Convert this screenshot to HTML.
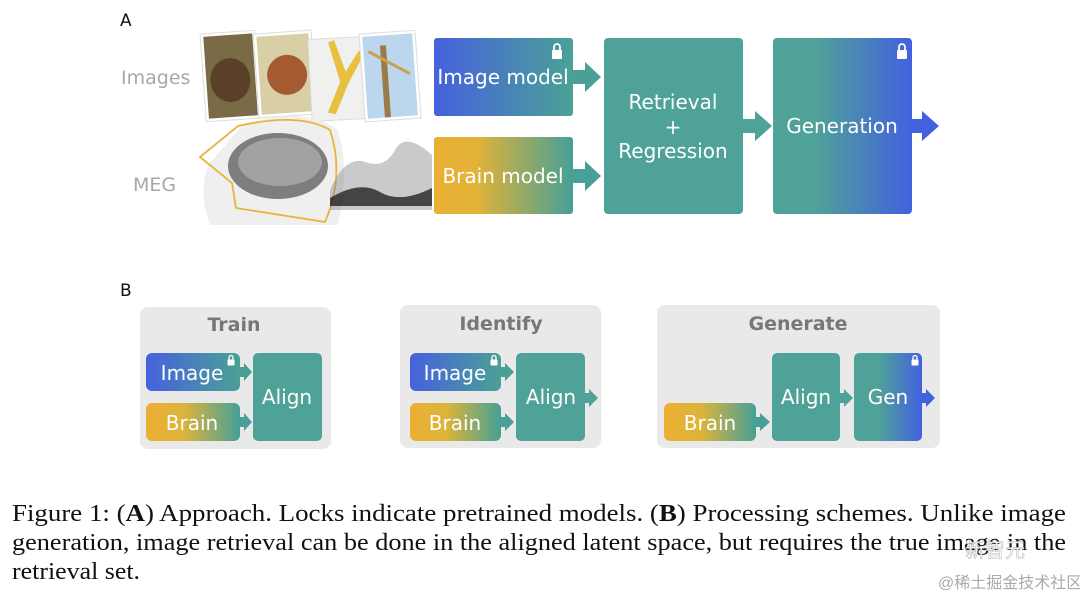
<!DOCTYPE html>
<html><head><meta charset="utf-8"><style>
html,body{margin:0;padding:0;background:#fff;}
svg{display:block}
.s{font-family:"DejaVu Sans","Liberation Sans",sans-serif;}
.c{font-family:"Liberation Serif",serif;font-size:24px;fill:#111;}
</style></head><body>
<svg width="1080" height="598" viewBox="0 0 1080 598" xmlns="http://www.w3.org/2000/svg">
<defs>
<linearGradient id="gb" x1="0" x2="1"><stop offset="0" stop-color="#4661de"/><stop offset="1" stop-color="#4ba196"/></linearGradient>
<linearGradient id="gy" x1="0" x2="1"><stop offset="0.05" stop-color="#e9b035"/><stop offset="0.3" stop-color="#e2b338"/><stop offset="1" stop-color="#46a096"/></linearGradient>
<linearGradient id="gg" x1="0" x2="1"><stop offset="0.3" stop-color="#4fa298"/><stop offset="1" stop-color="#4361df"/></linearGradient>
<linearGradient id="gbs" x1="0" x2="1"><stop offset="0" stop-color="#4661de"/><stop offset="1" stop-color="#4aa096"/></linearGradient>
<linearGradient id="gys" x1="0" x2="1"><stop offset="0.1" stop-color="#e9b035"/><stop offset="0.4" stop-color="#dcb43a"/><stop offset="1" stop-color="#46a096"/></linearGradient>
<linearGradient id="ggs" x1="0" x2="1"><stop offset="0.35" stop-color="#4fa298"/><stop offset="1" stop-color="#4361df"/></linearGradient>
<g id="lock"><rect x="-5" y="-2" width="10" height="9" rx="1" fill="#fff"/><path d="M-3,-2 v-3 a3,3 0 0 1 6,0 v3" stroke="#fff" stroke-width="1.8" fill="none"/></g>
<g id="slock"><rect x="-3.5" y="-1.5" width="7" height="6" rx="1" fill="#fff"/><path d="M-2,-1.5 v-2 a2,2 0 0 1 4,0 v2" stroke="#fff" stroke-width="1.3" fill="none"/></g>
</defs>

<text x="120" y="26" class="s" font-size="17" fill="#111">A</text>
<text x="121" y="84" class="s" font-size="19" fill="#a8a8a8">Images</text>
<text x="133" y="191" class="s" font-size="19" fill="#a8a8a8">MEG</text>

<!-- photos -->
<g transform="rotate(-4 231 75)"><rect x="203" y="32" width="55" height="88" fill="#fff" stroke="#ddd"/><rect x="206" y="35" width="49" height="82" fill="#7a6a45"/><ellipse cx="230" cy="80" rx="20" ry="22" fill="#5a4028"/></g>
<g transform="rotate(-4 285 73)"><rect x="256" y="32" width="58" height="84" fill="#fff" stroke="#ddd"/><rect x="259" y="35" width="52" height="78" fill="#d8cfa6"/><circle cx="287" cy="75" r="20" fill="#a65a32"/></g>
<g transform="rotate(-3 338 78)"><rect x="310" y="38" width="55" height="82" fill="#f0f0ee" stroke="#ddd"/><path d="M330 42 l10 40 l-14 30 l8 2 l14 -30 l18 -30 l-6 -2 l-14 20 l-10 -32z" fill="#e8c040"/></g>
<g transform="rotate(-4 391 75)"><rect x="362" y="32" width="56" height="88" fill="#fff" stroke="#ddd"/><rect x="365" y="35" width="50" height="82" fill="#bcd6ee"/><rect x="382" y="45" width="6" height="72" fill="#9a7a45"/><line x1="370" y1="50" x2="410" y2="75" stroke="#c8a050" stroke-width="3"/></g>

<!-- head / brain -->
<path d="M210 225 q-12 -30 -2 -60 l35 -40 q60 -20 95 5 q12 40 0 95z" fill="#efefef"/>
<path d="M200 157 L238 126 Q300 112 330 130 Q345 175 325 222 L236 208 L232 183 Z" fill="none" stroke="#e9b43c" stroke-width="1.8"/>
<ellipse cx="278" cy="166" rx="50" ry="33" fill="#7e7e7e"/>
<ellipse cx="280" cy="162" rx="42" ry="24" fill="#a2a2a2"/>
<path d="M330 190 q15 -35 35 -28 t30 -12 t37 5 l0 55 l-102 0z" fill="#8a8a8a" opacity="0.45"/>
<path d="M330 198 q30 -18 50 -6 t52 -4 l0 18 l-102 0z" fill="#222" opacity="0.8"/>

<!-- A boxes -->
<rect x="434" y="38" width="139" height="78" rx="3" fill="url(#gb)"/>
<use href="#lock" x="557" y="52"/>
<text x="503" y="84" class="s" font-size="20" fill="#fff" text-anchor="middle">Image model</text>
<polygon points="573,70 585,70 585,62 601,77 585,92 585,84 573,84" fill="#4aa096"/>
<rect x="434" y="137" width="139" height="77" rx="3" fill="url(#gy)"/>
<text x="503" y="183" class="s" font-size="20" fill="#fff" text-anchor="middle">Brain model</text>
<polygon points="573,169 585,169 585,161 601,176 585,191 585,183 573,183" fill="#4aa096"/>

<rect x="604" y="38" width="139" height="176" rx="4" fill="#4fa298"/>
<text x="673" y="109" class="s" font-size="20" fill="#fff" text-anchor="middle">Retrieval</text>
<text x="673" y="134" class="s" font-size="20" fill="#fff" text-anchor="middle">+</text>
<text x="673" y="158" class="s" font-size="20" fill="#fff" text-anchor="middle">Regression</text>
<polygon points="743,119 755,119 755,111 772,126 755,141 755,133 743,133" fill="#4fa298"/>

<rect x="773" y="38" width="139" height="176" rx="4" fill="url(#gg)"/>
<use href="#lock" x="902" y="52"/>
<text x="842" y="133" class="s" font-size="20" fill="#fff" text-anchor="middle">Generation</text>
<polygon points="912,119 922,119 922,111 939,126 922,141 922,133 912,133" fill="#4361df"/>

<!-- B -->
<text x="120" y="296" class="s" font-size="17" fill="#111">B</text>

<rect x="140" y="307" width="191" height="142" rx="8" fill="#e9e9ea"/>
<text x="234" y="331" class="s" font-size="19" font-weight="bold" fill="#777" text-anchor="middle">Train</text>
<rect x="146" y="353" width="94" height="38" rx="6" fill="url(#gbs)"/>
<use href="#slock" x="231" y="361"/>
<text x="192" y="380" class="s" font-size="20" fill="#fff" text-anchor="middle">Image</text>
<polygon points="240,367 244,367 244,363 252,372 244,381 244,377 240,377" fill="#4aa096"/>
<rect x="146" y="403" width="94" height="38" rx="6" fill="url(#gys)"/>
<text x="192" y="430" class="s" font-size="20" fill="#fff" text-anchor="middle">Brain</text>
<polygon points="240,417 244,417 244,413 252,422 244,431 244,427 240,427" fill="#4aa096"/>
<rect x="253" y="353" width="69" height="88" rx="5" fill="#4fa298"/>
<text x="287" y="404" class="s" font-size="20" fill="#fff" text-anchor="middle">Align</text>

<rect x="400" y="305" width="201" height="143" rx="8" fill="#e9e9ea"/>
<text x="501" y="330" class="s" font-size="19" font-weight="bold" fill="#777" text-anchor="middle">Identify</text>
<rect x="410" y="353" width="91" height="38" rx="6" fill="url(#gbs)"/>
<use href="#slock" x="494" y="361"/>
<text x="455" y="380" class="s" font-size="20" fill="#fff" text-anchor="middle">Image</text>
<polygon points="501,367 505,367 505,363 514,372 505,381 505,377 501,377" fill="#4aa096"/>
<rect x="410" y="403" width="91" height="38" rx="6" fill="url(#gys)"/>
<text x="455" y="430" class="s" font-size="20" fill="#fff" text-anchor="middle">Brain</text>
<polygon points="501,417 505,417 505,413 514,422 505,431 505,427 501,427" fill="#4aa096"/>
<rect x="516" y="353" width="69" height="88" rx="5" fill="#4fa298"/>
<text x="551" y="404" class="s" font-size="20" fill="#fff" text-anchor="middle">Align</text>
<polygon points="585,393 589,393 589,389 598,398 589,407 589,403 585,403" fill="#4fa298"/>

<rect x="657" y="305" width="283" height="143" rx="8" fill="#e9e9ea"/>
<text x="798" y="330" class="s" font-size="19" font-weight="bold" fill="#777" text-anchor="middle">Generate</text>
<rect x="664" y="403" width="92" height="38" rx="6" fill="url(#gys)"/>
<text x="710" y="430" class="s" font-size="20" fill="#fff" text-anchor="middle">Brain</text>
<polygon points="756,417 760,417 760,413 770,422 760,431 760,427 756,427" fill="#4aa096"/>
<rect x="772" y="353" width="68" height="88" rx="5" fill="#4fa298"/>
<text x="806" y="404" class="s" font-size="20" fill="#fff" text-anchor="middle">Align</text>
<polygon points="840,393 844,393 844,389 853,398 844,407 844,403 840,403" fill="#4fa298"/>
<rect x="854" y="353" width="68" height="88" rx="5" fill="url(#ggs)"/>
<use href="#slock" x="915" y="361"/>
<text x="888" y="404" class="s" font-size="20" fill="#fff" text-anchor="middle">Gen</text>
<polygon points="922,393 926,393 926,389 935,398 926,407 926,403 922,403" fill="#4361df"/>

<!-- caption -->
<text x="12" y="521" class="c" textLength="1054" lengthAdjust="spacingAndGlyphs">Figure 1: (<tspan font-weight="bold">A</tspan>) Approach. Locks indicate pretrained models. (<tspan font-weight="bold">B</tspan>) Processing schemes. Unlike image</text>
<text x="12" y="550" class="c" textLength="1054" lengthAdjust="spacingAndGlyphs">generation, image retrieval can be done in the aligned latent space, but requires the true image in the</text>
<text x="12" y="579" class="c" textLength="128" lengthAdjust="spacingAndGlyphs">retrieval set.</text>
<text x="965" y="557" font-family="'Noto Sans CJK SC',sans-serif" font-size="20" fill="#fff" stroke="#bbb" stroke-width="0.6">新智元</text>
<text x="938" y="588" font-family="'Liberation Sans','Noto Sans CJK SC',sans-serif" font-size="16" fill="#aaa">@稀土掘金技术社区</text>
</svg>
</body></html>
